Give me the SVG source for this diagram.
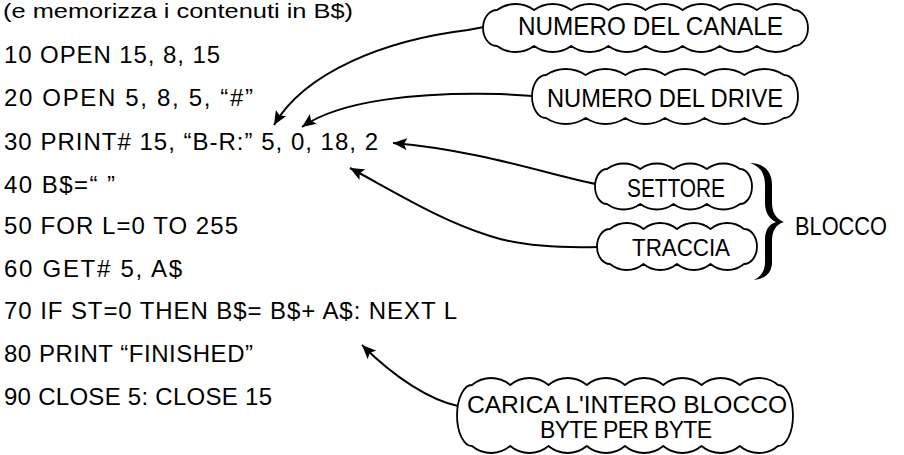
<svg xmlns="http://www.w3.org/2000/svg" width="904" height="455" viewBox="0 0 904 455">
<style>
.t{font-family:"Liberation Sans",Arial,sans-serif;fill:#000;}
.code{font-size:24px;}
.lbl{font-size:25px;}
.cloud{fill:#fff;stroke:#000;stroke-width:1.8;stroke-linejoin:round;}
.conn{fill:none;stroke:#000;stroke-width:2;}
</style>
<defs>
<marker id="ah" markerUnits="userSpaceOnUse" markerWidth="16" markerHeight="12" refX="14" refY="6" orient="auto">
<path d="M0,0 L14,6 L0,12 L3,6 Z" fill="#000"/>
</marker>
</defs>
<rect width="904" height="455" fill="#fff"/>
<g id="code">
<text class="t" font-size="20" x="3" y="18" textLength="350" lengthAdjust="spacingAndGlyphs">(e memorizza i contenuti in B$)</text>
<text class="t code" x="4" y="63" textLength="216" lengthAdjust="spacing">10 OPEN 15, 8, 15</text>
<text class="t code" x="4" y="106" textLength="249" lengthAdjust="spacing">20 OPEN 5, 8, 5, “#”</text>
<text class="t code" x="4" y="150" textLength="374" lengthAdjust="spacing">30 PRINT# 15, “B-R:” 5, 0, 18, 2</text>
<text class="t code" x="4" y="193" textLength="111" lengthAdjust="spacing">40 B$=“ ”</text>
<text class="t code" x="4" y="234" textLength="234" lengthAdjust="spacing">50 FOR L=0 TO 255</text>
<text class="t code" x="4" y="277" textLength="178" lengthAdjust="spacing">60 GET# 5, A$</text>
<text class="t code" x="4" y="319" textLength="453" lengthAdjust="spacing">70 IF ST=0 THEN B$= B$+ A$: NEXT L</text>
<text class="t code" x="4" y="362" textLength="249" lengthAdjust="spacing">80 PRINT “FINISHED”</text>
<text class="t code" x="4" y="405" textLength="268" lengthAdjust="spacing">90 CLOSE 5: CLOSE 15</text>
</g>
<g id="connectors">
<path class="conn" marker-end="url(#ah)" d="M484,27 L468,30 C385,40 305,72 274,125"/>
<path class="conn" marker-end="url(#ah)" d="M533,96 L500,94 C420,92 340,100 302,127"/>
<path class="conn" marker-end="url(#ah)" d="M596,184 C560,178 480,150 393,143"/>
<path class="conn" marker-end="url(#ah)" d="M598,247 C560,248 520,246 490,236 C440,220 400,195 350,168"/>
<path class="conn" marker-end="url(#ah)" d="M458,406 C430,400 395,378 362,345"/>
</g>
<g id="node-canale">
<path class="cloud" d="M497,10 a31.7,31.7 0 0 1 37.125,0 a31.7,31.7 0 0 1 37.125,0 a31.7,31.7 0 0 1 37.125,0 a31.7,31.7 0 0 1 37.125,0 a31.7,31.7 0 0 1 37.125,0 a31.7,31.7 0 0 1 37.125,0 a31.7,31.7 0 0 1 37.125,0 a31.7,31.7 0 0 1 37.125,0 A14,18 0 0 1 794,46 a31.7,31.7 0 0 1 -37.125,0 a31.7,31.7 0 0 1 -37.125,0 a31.7,31.7 0 0 1 -37.125,0 a31.7,31.7 0 0 1 -37.125,0 a31.7,31.7 0 0 1 -37.125,0 a31.7,31.7 0 0 1 -37.125,0 a31.7,31.7 0 0 1 -37.125,0 a31.7,31.7 0 0 1 -37.125,0 A14,18 0 0 1 497,10 Z"/>
<text class="t lbl" x="518" y="35" textLength="265" lengthAdjust="spacingAndGlyphs">NUMERO DEL CANALE</text>
</g>
<g id="node-drive">
<path class="cloud" d="M546,75 a35.8,35.8 0 0 1 39.667,0 a35.8,35.8 0 0 1 39.667,0 a35.8,35.8 0 0 1 39.667,0 a35.8,35.8 0 0 1 39.667,0 a35.8,35.8 0 0 1 39.667,0 a35.8,35.8 0 0 1 39.667,0 A14,21.5 0 0 1 784,118 a35.8,35.8 0 0 1 -39.667,0 a35.8,35.8 0 0 1 -39.667,0 a35.8,35.8 0 0 1 -39.667,0 a35.8,35.8 0 0 1 -39.667,0 a35.8,35.8 0 0 1 -39.667,0 a35.8,35.8 0 0 1 -39.667,0 A14,21.5 0 0 1 546,75 Z"/>
<text class="t lbl" x="547" y="107" textLength="236" lengthAdjust="spacingAndGlyphs">NUMERO DEL DRIVE</text>
</g>
<g id="node-settore">
<path class="cloud" d="M607,169 a27.9,27.9 0 0 1 33.25,0 a27.9,27.9 0 0 1 33.25,0 a27.9,27.9 0 0 1 33.25,0 a27.9,27.9 0 0 1 33.25,0 A12,17.5 0 0 1 740,204 a27.9,27.9 0 0 1 -33.25,0 a27.9,27.9 0 0 1 -33.25,0 a27.9,27.9 0 0 1 -33.25,0 a27.9,27.9 0 0 1 -33.25,0 A12,17.5 0 0 1 607,169 Z"/>
<text class="t lbl" x="627" y="197" textLength="98" lengthAdjust="spacingAndGlyphs">SETTORE</text>
</g>
<g id="node-traccia">
<path class="cloud" d="M610,229 a26.4,26.4 0 0 1 33.5,0 a26.4,26.4 0 0 1 33.5,0 a26.4,26.4 0 0 1 33.5,0 a26.4,26.4 0 0 1 33.5,0 A13,17.5 0 0 1 744,264 a26.4,26.4 0 0 1 -33.5,0 a26.4,26.4 0 0 1 -33.5,0 a26.4,26.4 0 0 1 -33.5,0 a26.4,26.4 0 0 1 -33.5,0 A13,17.5 0 0 1 610,229 Z"/>
<text class="t" font-size="24" x="632" y="256" textLength="98" lengthAdjust="spacingAndGlyphs">TRACCIA</text>
</g>
<g id="node-blocco">
<path fill="#000" d="M750,163 C762,163 772,170 772,185 L772,203 C772,212 776,219 784,222 C776,224 772,231 772,240 L772,262 C772,273 765,279 754,280 C762,276 765,270 765,262 L765,240 C765,230 769,224 776,222 C769,219 765,212 765,203 L765,185 C765,172 759,166 750,163 Z"/>
<text class="t lbl" x="795" y="235" textLength="92" lengthAdjust="spacingAndGlyphs">BLOCCO</text>
</g>
<g id="node-carica">
<path class="cloud" d="M472,385 a29.6,29.6 0 0 1 38.25,0 a29.6,29.6 0 0 1 38.25,0 a29.6,29.6 0 0 1 38.25,0 a29.6,29.6 0 0 1 38.25,0 a29.6,29.6 0 0 1 38.25,0 a29.6,29.6 0 0 1 38.25,0 a29.6,29.6 0 0 1 38.25,0 a29.6,29.6 0 0 1 38.25,0 A15,30.5 0 0 1 778,446 a29.6,29.6 0 0 1 -38.25,0 a29.6,29.6 0 0 1 -38.25,0 a29.6,29.6 0 0 1 -38.25,0 a29.6,29.6 0 0 1 -38.25,0 a29.6,29.6 0 0 1 -38.25,0 a29.6,29.6 0 0 1 -38.25,0 a29.6,29.6 0 0 1 -38.25,0 a29.6,29.6 0 0 1 -38.25,0 A15,30.5 0 0 1 472,385 Z"/>
<text class="t" font-size="23" x="467" y="413" textLength="320" lengthAdjust="spacingAndGlyphs">CARICA L'INTERO BLOCCO</text>
<text class="t" font-size="23" x="540" y="438" textLength="172" lengthAdjust="spacing">BYTE PER BYTE</text>
</g>
</svg>
